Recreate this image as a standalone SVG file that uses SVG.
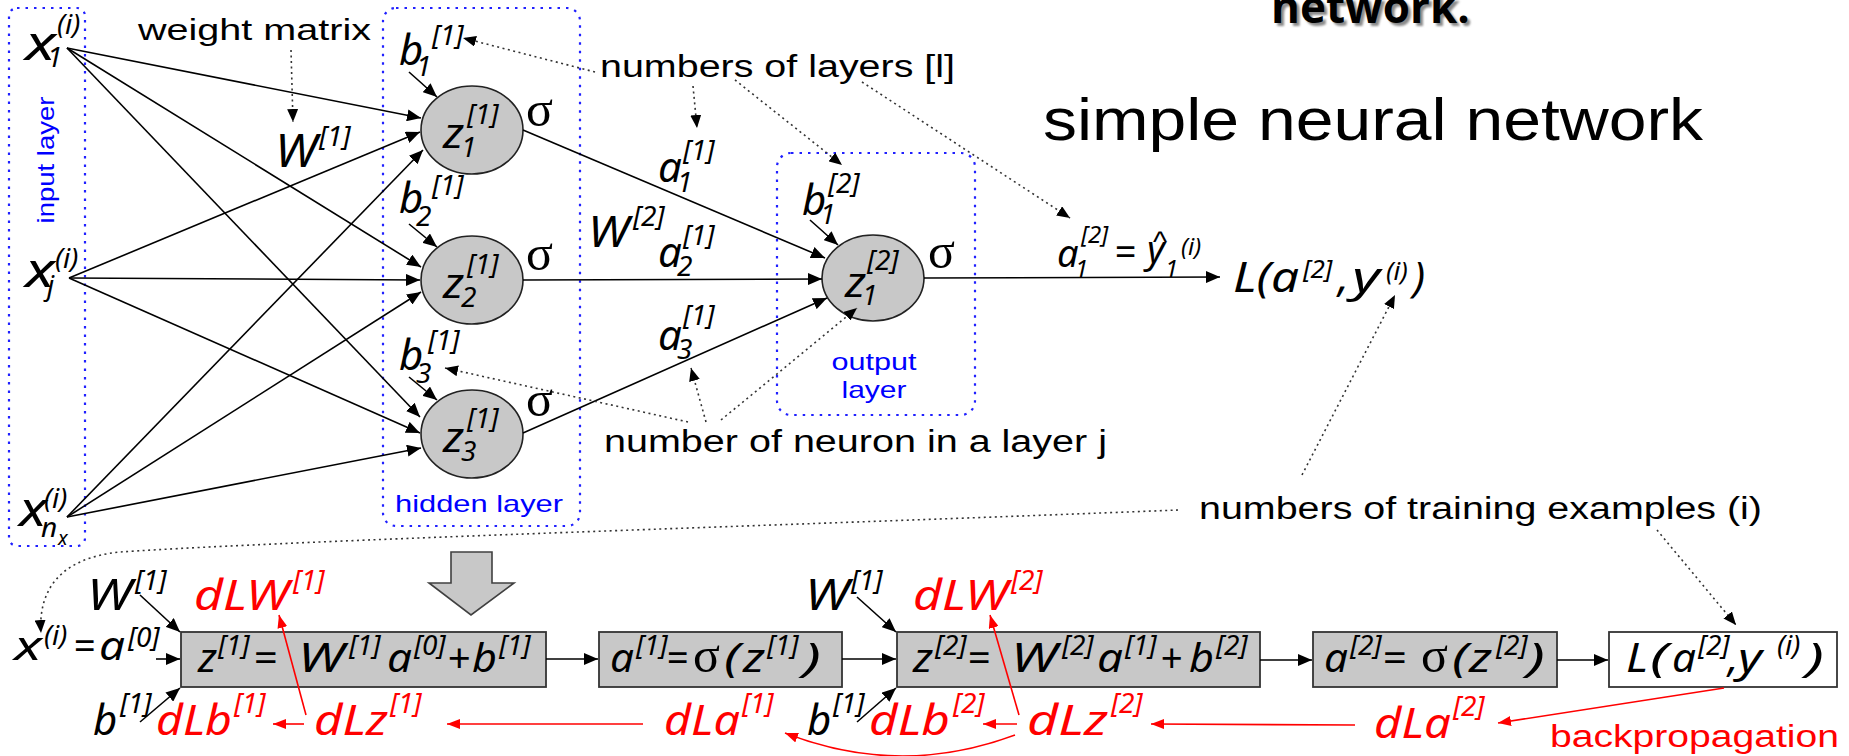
<svg xmlns="http://www.w3.org/2000/svg" width="1849" height="756" viewBox="0 0 1849 756">
<style>
text{font-family:"Noto Sans","DejaVu Sans",sans-serif}
.m{font-style:italic;font-size:42px;fill:#000}
.s{font-size:28px}
.r{fill:#f00}
.g{font-family:"Liberation Serif","DejaVu Serif",serif;font-style:normal}
.sg{font-family:"Liberation Serif","DejaVu Serif",serif;font-style:normal;font-size:50px}
.lab{font-family:"Liberation Sans",Arial,sans-serif;font-size:30px;fill:#000}
.blue{font-family:"Liberation Sans",Arial,sans-serif;fill:#0000ff;font-size:23px}
.ttl{font-family:"Open Sans","Noto Sans",sans-serif;font-weight:700;font-size:44px}
.lay{fill:none;stroke:#2020ff;stroke-width:2.2;stroke-dasharray:2.5 6}
.nd{fill:#c8c8c8;stroke:#222;stroke-width:1.6}
.bx{fill:#c8c8c8;stroke:#333;stroke-width:1.8}
.c{fill:none;stroke:#000;stroke-width:1.6;marker-end:url(#ab)}
.d{fill:none;stroke:#333;stroke-width:1.6;stroke-dasharray:2 3.5;marker-end:url(#ad)}
.rc{fill:none;stroke:#f00;stroke-width:1.6;marker-end:url(#ar)}
</style>
<defs>
<marker id="ab" viewBox="0 0 14 12" refX="14" refY="6" markerWidth="14" markerHeight="12" markerUnits="userSpaceOnUse" orient="auto"><path d="M0,0L14,6L0,12z" fill="#000"/></marker>
<marker id="ad" viewBox="0 0 13 11" refX="13" refY="5.5" markerWidth="13" markerHeight="11" markerUnits="userSpaceOnUse" orient="auto"><path d="M0,0L13,5.5L0,11z" fill="#000"/></marker>
<marker id="ar" viewBox="0 0 13 10" refX="13" refY="5" markerWidth="13" markerHeight="10" markerUnits="userSpaceOnUse" orient="auto"><path d="M0,0L13,5L0,10z" fill="#f00"/></marker>
<filter id="blur" x="-5%" y="-20%" width="110%" height="140%"><feGaussianBlur stdDeviation="1.3"/></filter>
</defs>
<rect width="1849" height="756" fill="#fff"/>

<g id="title-fragment">
<text class="ttl" x="1274" y="26" fill="#8a8a8a" filter="url(#blur)">network.</text>
<text class="ttl" x="1271" y="23" fill="#000">network.</text>
</g>
<g id="title"><text class="lab" x="1043" y="140" style="font-size:59px" textLength="660" lengthAdjust="spacingAndGlyphs">simple neural network</text></g>

<g id="input-layer">
<rect class="lay" x="9" y="8" width="76" height="538" rx="8"/>
<text class="blue" transform="translate(54,160) rotate(-90)" text-anchor="middle" style="font-size:24px" textLength="127" lengthAdjust="spacingAndGlyphs">input layer</text>
</g>
<g id="hidden-layer">
<rect class="lay" x="383" y="8" width="197" height="518" rx="13"/>
<text class="blue" x="395" y="512" style="font-size:24px" textLength="168" lengthAdjust="spacingAndGlyphs">hidden layer</text>
</g>
<g id="output-layer">
<rect class="lay" x="777" y="153" width="198" height="262" rx="14"/>
<text class="blue" x="874" y="370" text-anchor="middle" style="font-size:24px" textLength="85" lengthAdjust="spacingAndGlyphs">output</text>
<text class="blue" x="874" y="398" text-anchor="middle" style="font-size:24px" textLength="65" lengthAdjust="spacingAndGlyphs">layer</text>
</g>

<g id="x1"><text class="m" style="font-size:48px"><tspan x="25" y="60" textLength="31" lengthAdjust="spacingAndGlyphs">x</tspan><tspan class="s" x="47" y="67">1</tspan><tspan class="s" x="57" y="34">(i)</tspan></text></g>
<g id="xj"><text class="m" style="font-size:48px"><tspan x="25" y="287" textLength="30" lengthAdjust="spacingAndGlyphs">x</tspan><tspan class="s" x="47" y="295">j</tspan><tspan class="s" x="55" y="268">(i)</tspan></text></g>
<g id="xnx"><text class="m" style="font-size:48px"><tspan x="19" y="526" textLength="28" lengthAdjust="spacingAndGlyphs">x</tspan><tspan class="s" x="44" y="508">(i)</tspan><tspan class="s" x="41" y="537">n</tspan><tspan style="font-size:20px" x="58" y="545">x</tspan></text></g>

<g id="b11"><text class="m"><tspan x="399" y="65">b</tspan><tspan class="s" x="416" y="76">1</tspan><tspan class="s" x="432" y="45">[1]</tspan></text></g>
<g id="b21"><text class="m"><tspan x="399" y="213">b</tspan><tspan class="s" x="416" y="226">2</tspan><tspan class="s" x="432" y="195">[1]</tspan></text></g>
<g id="b31"><text class="m"><tspan x="399" y="370">b</tspan><tspan class="s" x="416" y="383">3</tspan><tspan class="s" x="428" y="350">[1]</tspan></text></g>
<g id="W1"><text class="m" style="font-size:46px"><tspan x="275" y="167" textLength="42" lengthAdjust="spacingAndGlyphs">W</tspan><tspan class="s" x="319" y="146">[1]</tspan></text></g>

<g id="z1"><ellipse class="nd" cx="472" cy="130" rx="51" ry="44"/><text class="m"><tspan x="443" y="148" textLength="21" lengthAdjust="spacingAndGlyphs">z</tspan><tspan class="s" x="461" y="157">1</tspan><tspan class="s" x="467" y="124">[1]</tspan></text><text class="sg" x="526" y="126">σ</text></g>
<g id="z2"><ellipse class="nd" cx="472" cy="280" rx="51" ry="44"/><text class="m"><tspan x="443" y="298" textLength="21" lengthAdjust="spacingAndGlyphs">z</tspan><tspan class="s" x="461" y="307">2</tspan><tspan class="s" x="467" y="274">[1]</tspan></text><text class="sg" x="526" y="270">σ</text></g>
<g id="z3"><ellipse class="nd" cx="472" cy="434" rx="51" ry="44"/><text class="m"><tspan x="443" y="452" textLength="21" lengthAdjust="spacingAndGlyphs">z</tspan><tspan class="s" x="461" y="461">3</tspan><tspan class="s" x="467" y="428">[1]</tspan></text><text class="sg" x="526" y="416">σ</text></g>

<g id="a1"><text class="m"><tspan x="658" y="182">a</tspan><tspan class="s" x="677" y="192">1</tspan><tspan class="s" x="683" y="160">[1]</tspan></text></g>
<g id="a2"><text class="m"><tspan x="658" y="267">a</tspan><tspan class="s" x="677" y="276">2</tspan><tspan class="s" x="683" y="245">[1]</tspan></text></g>
<g id="a3"><text class="m"><tspan x="658" y="350">a</tspan><tspan class="s" x="677" y="359">3</tspan><tspan class="s" x="683" y="325">[1]</tspan></text></g>
<g id="W2"><text class="m" style="font-size:44px"><tspan x="588" y="247" textLength="41" lengthAdjust="spacingAndGlyphs">W</tspan><tspan class="s" x="633" y="226">[2]</tspan></text></g>

<g id="b12"><text class="m"><tspan x="802" y="215">b</tspan><tspan class="s" x="820" y="224">1</tspan><tspan class="s" x="828" y="193">[2]</tspan></text></g>
<g id="z12"><ellipse class="nd" cx="873" cy="278" rx="51" ry="43"/><text class="m"><tspan x="845" y="297" textLength="21" lengthAdjust="spacingAndGlyphs">z</tspan><tspan class="s" x="862" y="305">1</tspan><tspan class="s" x="867" y="270">[2]</tspan></text><text class="sg" x="928" y="268">σ</text></g>

<g id="yhat"><text class="m" style="font-size:38px"><tspan x="1057" y="267">a</tspan><tspan style="font-size:24px" x="1075" y="277">1</tspan><tspan style="font-size:24px" x="1081" y="243">[2]</tspan><tspan x="1114" y="265">=</tspan><tspan x="1147" y="263">y</tspan><tspan style="font-size:24px" x="1165" y="277">1</tspan><tspan style="font-size:24px" x="1181" y="255">(i)</tspan></text><text class="lab" x="1153" y="252" style="font-size:30px">^</text></g>
<g id="loss-top"><text class="m"><tspan x="1233" y="292" textLength="66" lengthAdjust="spacingAndGlyphs">L(a</tspan><tspan style="font-size:26px" x="1303" y="278">[2]</tspan><tspan x="1338" y="292">,</tspan><tspan x="1352" y="292" textLength="28" lengthAdjust="spacingAndGlyphs">y</tspan><tspan style="font-size:26px" x="1386" y="280">(i)</tspan><tspan x="1413" y="292">)</tspan></text></g>

<g id="note-weight"><text class="lab" x="138" y="40" style="font-size:29px" textLength="233" lengthAdjust="spacingAndGlyphs">weight matrix</text></g>
<g id="note-layers"><text class="lab" x="600" y="77" style="font-size:31px" textLength="355" lengthAdjust="spacingAndGlyphs">numbers of layers [l]</text></g>
<g id="note-neuron"><text class="lab" x="604" y="452" style="font-size:31px" textLength="503" lengthAdjust="spacingAndGlyphs">number of neuron in a layer j</text></g>
<g id="note-training"><text class="lab" x="1199" y="519" style="font-size:31px" textLength="563" lengthAdjust="spacingAndGlyphs">numbers of training examples (i)</text></g>

<g id="down-arrow"><polygon points="451,552 492,552 492,583 514,583 471,615 429,583 451,583" fill="#c8c8c8" stroke="#404040" stroke-width="1.6"/></g>

<g id="box1"><rect class="bx" x="181" y="632" width="365" height="55"/><text class="m" style="font-size:40px"><tspan x="198" y="672" textLength="19" lengthAdjust="spacingAndGlyphs">z</tspan><tspan class="s" x="218" y="655">[1]</tspan><tspan x="253" y="672" textLength="24" lengthAdjust="spacingAndGlyphs">=</tspan><tspan x="298" y="672" textLength="46" lengthAdjust="spacingAndGlyphs">W</tspan><tspan class="s" x="349" y="655">[1]</tspan><tspan x="387" y="672" textLength="25" lengthAdjust="spacingAndGlyphs">a</tspan><tspan class="s" x="414" y="655">[0]</tspan><tspan x="447" y="672" textLength="23" lengthAdjust="spacingAndGlyphs">+</tspan><tspan x="472" y="672" textLength="25" lengthAdjust="spacingAndGlyphs">b</tspan><tspan class="s" x="499" y="655">[1]</tspan></text></g>
<g id="box2"><rect class="bx" x="599" y="632" width="243" height="55"/><text class="m" style="font-size:40px"><tspan x="610" y="672" textLength="24" lengthAdjust="spacingAndGlyphs">a</tspan><tspan class="s" x="636" y="655">[1]</tspan><tspan x="666" y="672" textLength="22" lengthAdjust="spacingAndGlyphs">=</tspan><tspan class="sg" x="693" y="672">σ</tspan><tspan x="724" y="672" textLength="16" lengthAdjust="spacingAndGlyphs">(</tspan><tspan x="743" y="672" textLength="22" lengthAdjust="spacingAndGlyphs">z</tspan><tspan class="s" x="767" y="655">[1]</tspan><tspan x="803" y="672" textLength="18" lengthAdjust="spacingAndGlyphs">)</tspan></text></g>
<g id="box3"><rect class="bx" x="897" y="632" width="363" height="55"/><text class="m" style="font-size:40px"><tspan x="913" y="672" textLength="20" lengthAdjust="spacingAndGlyphs">z</tspan><tspan class="s" x="935" y="655">[2]</tspan><tspan x="967" y="672" textLength="23" lengthAdjust="spacingAndGlyphs">=</tspan><tspan x="1011" y="672" textLength="46" lengthAdjust="spacingAndGlyphs">W</tspan><tspan class="s" x="1062" y="655">[2]</tspan><tspan x="1097" y="672" textLength="26" lengthAdjust="spacingAndGlyphs">a</tspan><tspan class="s" x="1125" y="655">[1]</tspan><tspan x="1160" y="672" textLength="22" lengthAdjust="spacingAndGlyphs">+</tspan><tspan x="1189" y="672" textLength="25" lengthAdjust="spacingAndGlyphs">b</tspan><tspan class="s" x="1216" y="655">[2]</tspan></text></g>
<g id="box4"><rect class="bx" x="1313" y="632" width="244" height="55"/><text class="m" style="font-size:40px"><tspan x="1324" y="672" textLength="24" lengthAdjust="spacingAndGlyphs">a</tspan><tspan class="s" x="1350" y="655">[2]</tspan><tspan x="1382" y="672" textLength="24" lengthAdjust="spacingAndGlyphs">=</tspan><tspan class="sg" x="1421" y="672">σ</tspan><tspan x="1452" y="672" textLength="16" lengthAdjust="spacingAndGlyphs">(</tspan><tspan x="1469" y="672" textLength="23" lengthAdjust="spacingAndGlyphs">z</tspan><tspan class="s" x="1496" y="655">[2]</tspan><tspan x="1527" y="672" textLength="18" lengthAdjust="spacingAndGlyphs">)</tspan></text></g>
<g id="box5"><rect x="1609" y="632" width="228" height="55" fill="#fff" stroke="#333" stroke-width="1.8"/><text class="m" style="font-size:40px"><tspan x="1626" y="672" textLength="22" lengthAdjust="spacingAndGlyphs">L</tspan><tspan x="1650" y="672" textLength="18" lengthAdjust="spacingAndGlyphs">(</tspan><tspan x="1672" y="672" textLength="24" lengthAdjust="spacingAndGlyphs">a</tspan><tspan class="s" x="1698" y="655">[2]</tspan><tspan x="1728" y="672">,</tspan><tspan x="1738" y="672" textLength="24" lengthAdjust="spacingAndGlyphs">y</tspan><tspan class="s" x="1777" y="655">(i)</tspan><tspan x="1806" y="672" textLength="18" lengthAdjust="spacingAndGlyphs">)</tspan></text></g>

<g id="x0"><text class="m" style="font-size:40px"><tspan x="14" y="660" textLength="28" lengthAdjust="spacingAndGlyphs">x</tspan><tspan class="s" x="44" y="645">(i)</tspan><tspan x="73" y="660" textLength="22" lengthAdjust="spacingAndGlyphs">=</tspan><tspan x="99" y="660" textLength="26" lengthAdjust="spacingAndGlyphs">a</tspan><tspan class="s" x="128" y="647">[0]</tspan></text></g>
<g id="W1b"><text class="m" style="font-size:44px"><tspan x="87" y="610" textLength="45" lengthAdjust="spacingAndGlyphs">W</tspan><tspan class="s" x="135" y="590">[1]</tspan></text></g>
<g id="b1b"><text class="m"><tspan x="93" y="735">b</tspan><tspan class="s" x="120" y="713">[1]</tspan></text></g>
<g id="W1c"><text class="m" style="font-size:44px"><tspan x="805" y="610" textLength="44" lengthAdjust="spacingAndGlyphs">W</tspan><tspan class="s" x="851" y="590">[1]</tspan></text></g>
<g id="b1c"><text class="m"><tspan x="807" y="735">b</tspan><tspan class="s" x="833" y="713">[1]</tspan></text></g>

<g id="dLW1"><text class="m r"><tspan x="194" y="610" textLength="95" lengthAdjust="spacingAndGlyphs">dLW</tspan><tspan class="s" x="293" y="590">[1]</tspan></text></g>
<g id="dLb1"><text class="m r"><tspan x="156" y="735" textLength="76" lengthAdjust="spacingAndGlyphs">dLb</tspan><tspan class="s" x="234" y="713">[1]</tspan></text></g>
<g id="dLz1"><text class="m r"><tspan x="314" y="735" textLength="74" lengthAdjust="spacingAndGlyphs">dLz</tspan><tspan class="s" x="390" y="713">[1]</tspan></text></g>
<g id="dLa1"><text class="m r"><tspan x="664" y="735" textLength="76" lengthAdjust="spacingAndGlyphs">dLa</tspan><tspan class="s" x="742" y="713">[1]</tspan></text></g>
<g id="dLW2"><text class="m r"><tspan x="913" y="610" textLength="95" lengthAdjust="spacingAndGlyphs">dLW</tspan><tspan class="s" x="1011" y="590">[2]</tspan></text></g>
<g id="dLb2"><text class="m r"><tspan x="869" y="735" textLength="81" lengthAdjust="spacingAndGlyphs">dLb</tspan><tspan class="s" x="953" y="713">[2]</tspan></text></g>
<g id="dLz2"><text class="m r"><tspan x="1027" y="735" textLength="81" lengthAdjust="spacingAndGlyphs">dLz</tspan><tspan class="s" x="1111" y="713">[2]</tspan></text></g>
<g id="dLa2"><text class="m r"><tspan x="1374" y="738" textLength="77" lengthAdjust="spacingAndGlyphs">dLa</tspan><tspan class="s" x="1453" y="716">[2]</tspan></text></g>
<g id="backprop"><text class="lab" x="1550" y="747" style="fill:#f00;font-size:31px" textLength="289" lengthAdjust="spacingAndGlyphs">backpropagation</text></g>

<g id="connectors">
<path class="c" d="M67,48L421,118"/>
<path class="c" d="M67,48L421,267"/>
<path class="c" d="M67,48L420,417"/>
<path class="c" d="M69,278L420,132"/>
<path class="c" d="M69,278L420,280"/>
<path class="c" d="M69,278L420,433"/>
<path class="c" d="M67,517L423,150"/>
<path class="c" d="M67,517L421,292"/>
<path class="c" d="M67,517L421,448"/>
<path class="c" d="M409,72L437,97"/>
<path class="c" d="M409,224L437,247"/>
<path class="c" d="M409,377L437,400"/>
<path class="c" d="M810,220L838,245"/>
<path class="c" d="M523,130L825,258"/>
<path class="c" d="M523,280L822,279"/>
<path class="c" d="M523,433L827,298"/>
<path class="c" d="M924,278L1220,277"/>
<path class="c" d="M156,659L180,659"/>
<path class="c" d="M546,659L598,659"/>
<path class="c" d="M842,659L896,659"/>
<path class="c" d="M1260,660L1312,660"/>
<path class="c" d="M1557,660L1608,660"/>
<path class="c" d="M140,595L180,632"/>
<path class="c" d="M140,722L180,688"/>
<path class="c" d="M857,597L896,632"/>
<path class="c" d="M857,722L896,688"/>
<path class="d" d="M291,50L293,122"/>
<path class="d" d="M595,72L463,38"/>
<path class="d" d="M693,86L697,128"/>
<path class="d" d="M735,80L842,165"/>
<path class="d" d="M862,82L1070,218"/>
<path class="d" d="M688,422L445,368"/>
<path class="d" d="M706,422L691,368"/>
<path class="d" d="M721,420L857,308"/>
<path class="d" d="M1302,475L1395,295"/>
<path class="d" d="M1657,530L1736,625"/>
<path class="d" d="M1178,510C800,525 300,540 120,552C60,558 38,590 41,633"/>
<path class="rc" d="M306,715L279,615"/>
<path class="rc" d="M304,724L273,724"/>
<path class="rc" d="M643,724L447,724"/>
<path class="rc" d="M1019,715L990,615"/>
<path class="rc" d="M1017,724L983,724"/>
<path class="rc" d="M1355,725L1151,724"/>
<path class="rc" d="M1015,735Q900,778 785,733"/>
<path class="rc" d="M1724,688L1498,723"/>
</g>
</svg>
